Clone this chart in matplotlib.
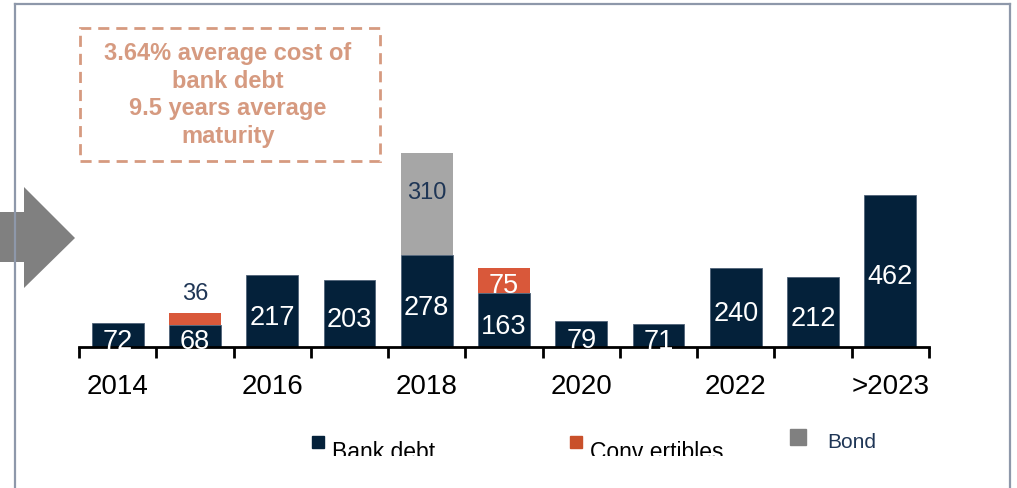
import matplotlib

matplotlib.use("Agg")

import matplotlib.pyplot as plt  # noqa: E402
import numpy as np  # noqa: E402
from matplotlib.patches import Polygon, Rectangle  # noqa: E402
from matplotlib.lines import Line2D  # noqa: E402
from matplotlib.transforms import Bbox, TransformedBbox  # noqa: E402

plt.rcParams["font.family"] = ["Liberation Sans", "DejaVu Sans"]

# data
categories = ["2014", "2015", "2016", "2017", "2018", "2019",
              "2020", "2021", "2022", "2023", ">2023"]
bank_debt = [72, 68, 217, 203, 278, 163, 79, 71, 240, 212, 462]
convertibles = [0, 36, 0, 0, 0, 75, 0, 0, 0, 0, 0]
bond = [0, 0, 0, 0, 310, 0, 0, 0, 0, 0, 0]
note_lines = ["3.64% average cost of", "bank debt",
              "9.5 years average", "maturity"]

NAVY = "#04213A"
ORANGE = "#D9583A"
GREY = "#A6A6A6"
SALMON = "#D69A80"
LABEL_NAVY = "#1F3656"

W, H = 1017, 489
fig = plt.figure(figsize=(W / 100, H / 100), dpi=100)


def fx(px):
    return px / W


def fy(py):
    return 1 - py / H


# frame lines
frame_col = "#8E98AA"
fig.add_artist(Line2D([fx(15), fx(15)], [fy(5), 0], color=frame_col, lw=1.6))
fig.add_artist(Line2D([fx(15), fx(1010)], [fy(5), fy(5)], color=frame_col, lw=1.6))
fig.add_artist(Line2D([fx(1010), fx(1010)], [fy(5), 0], color=frame_col, lw=1.6))

# chevron arrow on the left
arrow_px = [(0, 213), (24, 213), (24, 188), (75, 239), (24, 289), (24, 263), (0, 263)]
fig.add_artist(Polygon([(fx(x), fy(y)) for x, y in arrow_px], closed=True,
                       facecolor="#808080", edgecolor="none",
                       transform=fig.transFigure))

# main axes
ax = fig.add_axes([fx(79), fy(348), fx(929) - fx(79), 198 / H])
x = np.arange(len(categories))
bank = np.array(bank_debt)
conv = np.array(convertibles)
bnd = np.array(bond)
width = 0.67
edge = dict(edgecolor="#4F6278", linewidth=0.6)
ax.bar(x, bank, width, color=NAVY, **edge)
ax.bar(x, conv, width, bottom=bank, color=ORANGE, edgecolor="none")
ax.bar(x, bnd, width, bottom=bank + conv, color=GREY, edgecolor="none")

ax.set_xlim(-0.5, len(categories) - 0.5)
ax.set_ylim(0, 600)
for s in ["top", "left", "right"]:
    ax.spines[s].set_visible(False)
ax.spines["bottom"].set_linewidth(2)
ax.set_yticks([])
ax.set_xticks(np.arange(len(categories) + 1) - 0.5)
ax.set_xticklabels([])
ax.tick_params(axis="x", which="major", direction="out", length=8, width=2)
ax.set_xticks(x[::2], minor=True)
ax.set_xticklabels(categories[::2], minor=True, fontsize=20)
ax.tick_params(axis="x", which="minor", length=0, pad=19)

# value labels
for i in x:
    ax.annotate(str(bank[i]), (i, bank[i] / 2), xytext=(0, -4), textcoords="offset points",
                ha="center", va="center", color="white", fontsize=19.5)
    if conv[i]:
        if conv[i] > 50:
            ax.annotate(str(conv[i]), (i, bank[i] + conv[i] / 2), xytext=(0, -3),
                        textcoords="offset points", ha="center", va="center",
                        color="white", fontsize=19.5)
        else:
            ax.annotate(str(conv[i]), (i, bank[i] + conv[i]), xytext=(0, 6),
                        textcoords="offset points", ha="center", va="bottom",
                        color=LABEL_NAVY, fontsize=17)
    if bnd[i]:
        ax.annotate(str(bnd[i]), (i, bank[i] + conv[i] + bnd[i] / 2), xytext=(0, 9),
                    textcoords="offset points", ha="center", va="center",
                    color=LABEL_NAVY, fontsize=17)

# note box
fig.add_artist(Rectangle((fx(80), fy(162)), fx(380) - fx(80), fy(29) - fy(162),
                         fill=False, edgecolor=SALMON, lw=2, linestyle=(0, (4, 2.5)),
                         transform=fig.transFigure))
fig.text(fx(228), fy(95), "\n".join(note_lines), ha="center", va="center",
         fontsize=17, fontweight="bold", color=SALMON, linespacing=1.26)

# legend
clip = TransformedBbox(Bbox([[0, fy(457)], [1, 1]]), fig.transFigure)
fig.add_artist(Rectangle((fx(312), fy(449)), fx(12), fy(437) - fy(449),
                         color=NAVY, transform=fig.transFigure))
t = fig.text(fx(332), fy(459), "Bank debt", fontsize=16.5, color="black", va="baseline")
t.set_clip_on(True)
t.set_clip_box(clip)
fig.add_artist(Rectangle((fx(570), fy(449)), fx(12), fy(437) - fy(449),
                         color="#C9502A", transform=fig.transFigure))
t = fig.text(fx(590), fy(459), "Conv ertibles", fontsize=16.5, color="black", va="baseline")
t.set_clip_on(True)
t.set_clip_box(clip)
fig.add_artist(Rectangle((fx(790), fy(446)), fx(16), fy(430) - fy(446),
                         color="#808080", transform=fig.transFigure))
fig.text(fx(827), fy(448), "Bond", fontsize=15, color=LABEL_NAVY, va="baseline")

fig.savefig("out.png", dpi=100)
plt.close(fig)
